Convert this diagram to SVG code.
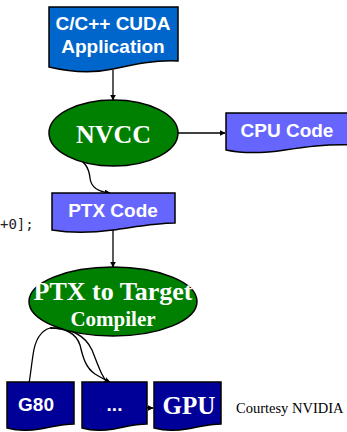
<svg xmlns="http://www.w3.org/2000/svg" width="347" height="432" viewBox="0 0 347 432">
<style>
.box{stroke:#000;stroke-width:1.5}
.ell{fill:#008000;stroke:#000;stroke-width:1.5}
.sans{font-family:"Liberation Sans",Arial,sans-serif;font-weight:bold;fill:#fff;text-anchor:middle}
.serif{font-family:"Liberation Serif","Times New Roman",serif;font-weight:bold;fill:#fff;text-anchor:middle}
.conn{fill:none;stroke:#000;stroke-width:1.3;marker-end:url(#ah)}
</style>
<defs>
<marker id="ah" viewBox="0 0 10 10" refX="9" refY="5" markerWidth="6" markerHeight="6" markerUnits="userSpaceOnUse" orient="auto">
<path d="M0,0 L10,5 L0,10 Z" fill="#000"/>
</marker>
</defs>
<rect width="347" height="432" fill="#fff"/>
<text x="0" y="229" font-family="'DejaVu Sans Mono',monospace" font-size="14" fill="#222">+0];</text>
<g id="connectors">
<path class="conn" d="M113,70 V100"/>
<path class="conn" d="M178,133 H225"/>
<path class="conn" d="M73,157 C85,160 89,168 90,178 C91,188 100,192 110,193"/>
<path class="conn" d="M113,229 V267"/>
<path class="conn" d="M50,328 C40,331 35,340 33,355 C30,375 29,392 25,398 C21,404 15,406 10,408"/>
<path class="conn" d="M50,328 C65,328 76,333 80,345 C83,358 86,368 95,374 C100,377 105,380 110,382"/>
<path class="conn" d="M50,328 C70,328 85,335 92,350 C98,365 102,378 110,386 C120,398 135,408 153,408"/>
</g>
<g id="app">
<path class="box" fill="#0066cc" d="M49,7 H178 V61 C155,60 135,64 113,69 C90,74 70,72 49,67 Z"/>
<text class="sans" x="113" y="30" font-size="19">C/C++ CUDA</text>
<text class="sans" x="113" y="53" font-size="19">Application</text>
</g>
<g id="nvcc">
<ellipse class="ell" cx="113.5" cy="133" rx="64.5" ry="33"/>
<text class="serif" x="113.5" y="143" font-size="26">NVCC</text>
</g>
<g id="cpu">
<path class="box" fill="#6666ff" d="M226,113 H352 V145 C325,144 305,147 285,150 C265,153 245,154 226,150 Z"/>
<text class="sans" x="287" y="137" font-size="19">CPU Code</text>
</g>
<g id="ptx">
<path class="box" fill="#6666ff" d="M52,193 H175 V223 C155,223 135,227 113,230 C90,233 70,233 52,230 Z"/>
<text class="sans" x="113" y="217" font-size="19">PTX Code</text>
</g>
<g id="ptx2target">
<ellipse class="ell" cx="113" cy="301.5" rx="84" ry="34.5"/>
<text class="serif" x="113" y="300" font-size="26">PTX to Target</text>
<text class="serif" x="113" y="326" font-size="21">Compiler</text>
</g>
<g id="g80">
<path class="box" fill="#000099" d="M7,382 H74 V424 C62,424 52,427 40,429 C28,431 18,431 7,428 Z"/>
<text class="sans" x="36" y="411" font-size="19">G80</text>
</g>
<g id="dots">
<path class="box" fill="#000099" d="M82,382 H147 V424 C135,424 125,427 114,429 C102,431 92,431 82,428 Z"/>
<text class="sans" x="114.5" y="411" font-size="19">...</text>
</g>
<g id="gpu">
<path class="box" fill="#000099" d="M154,382 H221 V424 C209,424 199,427 187,429 C175,431 165,431 154,428 Z"/>
<text class="serif" x="189" y="414" font-size="25">GPU</text>
</g>
<text x="236" y="413" font-family="'Liberation Serif','Times New Roman',serif" font-size="14.5" fill="#000">Courtesy NVIDIA</text>
</svg>
